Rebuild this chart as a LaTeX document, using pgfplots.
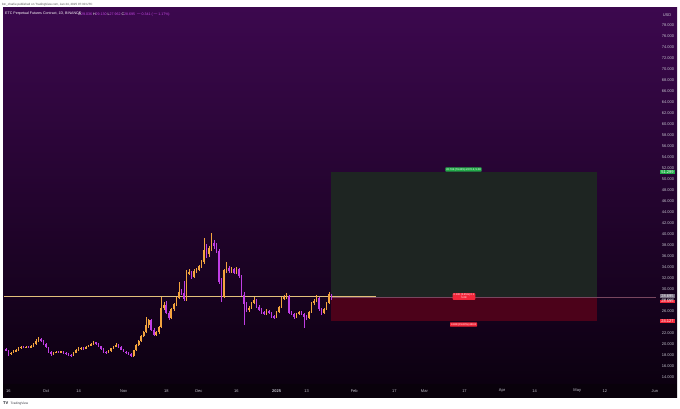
\documentclass[border=0pt]{standalone}
\usepackage{pgfplots}
\usepackage{pgfplotstable}
\pgfplotsset{compat=1.18}
\usepackage{fontspec}
\setmainfont{Liberation Sans}
\setsansfont{Liberation Sans}

\definecolor{upc}{RGB}{244,164,62}
\definecolor{dnc}{RGB}{192,62,228}
\definecolor{bgtop}{RGB}{60,8,78}
\definecolor{bgbot}{RGB}{10,0,14}
\definecolor{band}{RGB}{9,1,11}
\definecolor{lbl}{RGB}{195,195,205}
\definecolor{tvgreen}{RGB}{34,171,72}
\definecolor{tvred}{RGB}{242,38,58}
\definecolor{boxgreen}{RGB}{30,37,34}
\definecolor{boxred}{RGB}{76,2,26}
\definecolor{hline}{RGB}{226,192,122}
\definecolor{entry}{RGB}{120,70,95}
\definecolor{hdrval}{RGB}{200,72,232}

\newcommand\tvf{\fontsize{4}{4.5}\selectfont}
\newcommand\hdf{\fontsize{3.6}{4}\selectfont}

% daily candles, d = days since 1 Oct 2024
\pgfplotstableread{
d o h l c
-16 19.1 19.3 18.7 18.9
-15 18.9 19.0 17.9 18.2
-14 18.2 18.6 18.0 18.4
-13 18.4 18.9 18.3 18.7
-12 18.7 19.1 18.5 18.9
-11 18.9 19.5 18.8 19.3
-10 19.3 19.7 19.1 19.5
-9 19.5 19.7 19.2 19.4
-8 19.4 19.7 19.2 19.5
-7 19.5 19.7 19.2 19.4
-6 19.4 19.8 19.3 19.6
-5 19.6 20.2 19.5 20.0
-4 20.0 20.9 19.9 20.6
-3 20.6 21.3 20.4 21.0
-2 21.0 21.1 20.4 20.6
-1 20.6 20.7 19.8 20.0
0 20.0 20.1 19.2 19.4
1 19.4 19.5 18.4 18.6
2 18.6 18.8 17.9 18.1
3 18.1 18.6 18.0 18.4
4 18.4 18.8 18.3 18.6
5 18.6 18.8 18.3 18.5
6 18.5 18.8 18.4 18.6
7 18.6 18.7 18.2 18.4
8 18.4 18.5 18.0 18.2
9 18.2 18.3 17.8 18.0
10 18.0 18.1 17.7 17.9
11 17.9 18.6 17.8 18.4
12 18.4 19.1 18.3 18.9
13 18.9 19.4 18.7 19.2
14 19.2 19.5 19.0 19.3
15 19.3 19.4 19.0 19.2
16 19.2 19.7 19.1 19.5
17 19.5 19.9 19.4 19.8
18 19.8 20.2 19.6 20.0
19 20.0 20.5 19.9 20.3
20 20.3 20.4 19.9 20.1
21 20.1 20.2 19.5 19.6
22 19.6 19.7 18.9 19.1
23 19.1 19.2 18.4 18.6
24 18.6 18.7 18.2 18.4
25 18.4 18.9 18.3 18.7
26 18.7 19.3 18.6 19.2
27 19.2 19.7 19.1 19.5
28 19.5 20.1 19.4 19.9
29 19.9 20.0 19.3 19.5
30 19.5 19.6 18.9 19.0
31 19.0 19.1 18.5 18.6
32 18.6 18.7 18.2 18.4
33 18.4 18.5 18.0 18.2
34 18.2 18.3 17.6 17.8
35 17.8 19.0 17.7 18.9
36 18.9 20.0 18.8 19.8
37 19.8 20.8 19.7 20.6
38 20.6 21.6 20.4 21.4
39 21.4 22.4 21.2 22.2
40 22.2 24.9 22.0 23.4
41 23.4 24.6 23.0 24.3
42 24.3 24.5 22.4 22.6
43 22.6 22.9 21.4 21.7
44 21.7 22.4 21.5 22.2
45 22.2 23.3 21.9 23.1
46 23.1 28.5 22.9 26.6
47 26.6 27.6 26.2 27.1
48 27.1 27.8 25.4 25.7
49 25.7 26.0 24.3 24.8
50 24.8 26.6 24.6 26.4
51 26.4 27.4 26.0 27.2
52 27.2 28.6 27.0 28.4
53 28.4 31.3 28.2 29.5
54 29.5 30.0 28.9 29.2
55 29.2 31.5 27.8 28.1
56 28.1 33.4 27.9 32.9
57 32.9 33.6 32.5 33.1
58 33.1 33.3 31.8 32.2
59 32.2 33.6 32.0 33.3
60 33.3 33.9 33.0 33.5
61 33.5 34.4 33.2 34.1
62 34.1 35.3 33.8 34.9
63 34.9 39.3 34.6 37.1
64 37.1 38.2 35.6 36.4
65 36.4 37.9 35.9 37.5
66 37.5 40.2 37.0 38.4
67 38.4 38.9 37.2 37.8
68 37.8 38.3 36.5 36.9
69 36.9 37.2 31.0 31.3
70 31.3 32.0 27.6 28.6
71 28.6 33.7 28.3 33.4
72 33.4 34.9 33.0 33.9
73 33.9 34.2 32.9 33.3
74 33.3 34.0 32.9 33.7
75 33.7 33.9 32.7 33.0
76 33.0 34.0 32.7 33.6
77 33.6 33.8 32.0 32.4
78 32.4 32.6 28.7 29.0
79 29.0 29.5 23.5 27.2
80 27.2 27.6 25.9 26.2
81 26.2 27.0 25.8 26.6
82 26.6 27.7 26.3 27.5
83 27.5 28.6 27.2 28.0
84 28.0 28.2 26.5 26.8
85 26.8 27.1 26.0 26.2
86 26.2 26.5 25.5 25.8
87 25.8 26.0 25.2 25.5
88 25.5 26.3 25.3 26.0
89 26.0 26.2 25.4 25.6
90 25.6 25.8 24.8 25.0
91 25.0 25.3 24.6 24.9
92 24.9 26.0 24.7 25.8
93 25.8 27.0 25.6 26.8
94 26.8 28.5 26.6 28.3
95 28.3 28.9 28.0 28.5
96 28.5 29.3 28.2 28.7
97 28.7 28.9 25.4 25.7
98 25.7 26.0 25.2 25.5
99 25.5 25.7 24.6 24.9
100 24.9 25.6 24.7 25.4
101 25.4 26.0 25.2 25.8
102 25.8 26.0 25.2 25.4
103 25.4 25.7 22.9 25.0
104 25.0 25.2 24.4 24.8
105 24.8 26.0 24.6 25.8
106 25.8 27.6 25.6 27.4
107 27.4 28.2 27.1 27.9
108 27.9 29.0 27.6 28.4
109 28.4 28.6 26.0 26.3
110 26.3 26.6 25.3 25.6
111 25.6 26.6 25.4 26.4
112 26.4 27.7 26.2 27.5
113 27.5 29.5 27.3 29.036
114 29.036 29.13 27.962 28.695
}\candles

\pgfplotsset{
  candle/.style 2 args={mark=none, draw=none,
    /pgfplots/error bars/y dir=both,
    /pgfplots/error bars/y explicit,
    /pgfplots/error bars/error mark=none,
    /pgfplots/error bars/error bar style={draw=#1, line width=#2}},
  up/.style={restrict expr to domain={\thisrow{c}-\thisrow{o}}{0:100}},
  down/.style={restrict expr to domain={\thisrow{c}-\thisrow{o}}{-100:-0.0001}},
}

\begin{document}
\begin{tikzpicture}[x=1pt,y=1pt]
\fill[white] (0,0) rectangle (680,409);
\shade[top color=bgtop, bottom color=bgbot] (3,11) rectangle (677,401);
\fill[band] (3,11) rectangle (677,25);

\begin{axis}[
  at={(4pt,25pt)}, anchor=south west,
  width=652pt, height=376pt, scale only axis,
  xmin=-16.76, xmax=243.42,
  ymin=12.73, ymax=81.09,
  axis line style={draw=none},
  major tick length=0pt,
  xtick={-15,0,13,31,48,61,76,92,104,123,139,151,167,182,195,212,223,243},
  xticklabels={16,Oct,14,Nov,18,Dec,16,\textbf{2025},13,Feb,17,Mar,17,Apr,14,May,12,Jun},
  xticklabel style={font=\tvf, text=lbl, anchor=center, yshift=-7pt},
  ytick={14,16,...,78},
  ytick pos=right, yticklabel pos=right,
  yticklabel style={font=\tvf, text=lbl, anchor=center, xshift=12pt,
    /pgf/number format/.cd, fixed, fixed zerofill, precision=3},
  /pgf/number format/assume math mode=true,
]

% long position box
\fill[boxgreen] (axis cs:113.7,28.595) rectangle (axis cs:220,51.299);
\fill[boxred] (axis cs:113.7,24.127) rectangle (axis cs:220,28.595);
\draw[entry, line width=0.4pt] (axis cs:113.7,28.595) -- (axis cs:243.42,28.595);
\draw[hline, line width=0.7pt] (axis cs:-16.76,28.7) -- (axis cs:131.7,28.7);

% wicks
\addplot[up, candle={upc}{0.5pt}] table[x=d, y expr={(\thisrow{h}+\thisrow{l})/2},
  y error expr={(\thisrow{h}-\thisrow{l})/2}] {\candles};
\addplot[down, candle={dnc}{0.5pt}] table[x=d, y expr={(\thisrow{h}+\thisrow{l})/2},
  y error expr={(\thisrow{h}-\thisrow{l})/2}] {\candles};
% bodies
\addplot[up, candle={upc}{1.6pt}] table[x=d, y expr={(\thisrow{o}+\thisrow{c})/2},
  y error expr={max(abs(\thisrow{c}-\thisrow{o})/2,0.09)}] {\candles};
\addplot[down, candle={dnc}{1.6pt}] table[x=d, y expr={(\thisrow{o}+\thisrow{c})/2},
  y error expr={max(abs(\thisrow{c}-\thisrow{o})/2,0.09)}] {\candles};
\end{axis}

% position labels
\node[fill=tvgreen, text=white, font=\fontsize{2.6}{3}\selectfont, inner xsep=1pt, inner ysep=0.8pt,
  rounded corners=0.5pt] at (463.5,239.5) {22.704 (79.40\%) 2270.4, 5.08};
\node[fill=tvred, text=white, font=\fontsize{2.6}{3}\selectfont, inner xsep=1pt, inner ysep=0.8pt,
  rounded corners=0.8pt, align=center] at (464,112.5) {0.100 (0.35\%) 0.1\\5.08};
\node[fill=tvred, text=white, font=\fontsize{2.6}{3}\selectfont, inner xsep=1pt, inner ysep=0.8pt,
  rounded corners=0.5pt] at (463.5,84.5) {4.468 (15.63\%) 446.8};

% price scale labels
\node[fill=tvgreen, text=white, font=\tvf, inner xsep=0.8pt, inner ysep=0.5pt, minimum width=15pt] at (667.5,237.1) {51.299};
\node[fill={rgb,255:red,120;green,110;blue,130}, text=white, font=\tvf, inner xsep=0.8pt, inner ysep=0.5pt, minimum width=15pt] at (667.5,112.8) {28.695};
\node[fill=tvred, text=white, font=\tvf, inner xsep=0.8pt, inner ysep=0.5pt, minimum width=15pt] at (667.5,107.5) {28.595};
\node[fill=tvred, text=white, font=\tvf, inner xsep=0.8pt, inner ysep=0.5pt, minimum width=15pt] at (667.5,87.7) {24.127};
\node[text=lbl, font=\tvf] at (667,394) {USD};

% header
\node[anchor=west, text=white, font=\hdf, inner sep=0pt] at (5,395) {ETC Perpetual Futures Contract, 1D, BINANCE};
\node[anchor=west, font=\hdf, inner sep=0pt] at (78,395) {%
  \textcolor{white}{O}\textcolor{hdrval}{29.036} \textcolor{white}{H}\textcolor{hdrval}{29.130}
  \textcolor{white}{L}\textcolor{hdrval}{27.962} \textcolor{white}{C}\textcolor{hdrval}{28.695}
  \textcolor{hdrval}{$-$0.341 ($-$1.17\%)}};
\node[anchor=west, text={rgb,255:red,80;green,80;blue,80}, font=\fontsize{3}{3.5}\selectfont, inner sep=0pt]
  at (2,404.5) {btc\_charlie published on TradingView.com, Jan 24, 2025 07:30 UTC};
\node[anchor=west, text={rgb,255:red,20;green,24;blue,34}, font=\fontsize{4}{4.5}\selectfont\bfseries, inner sep=0pt]
  at (3,5.5) {TV};
\node[anchor=west, text={rgb,255:red,60;green,60;blue,70}, font=\fontsize{3.2}{3.6}\selectfont, inner sep=0pt]
  at (10.5,5.5) {TradingView};
\end{tikzpicture}
\end{document}
